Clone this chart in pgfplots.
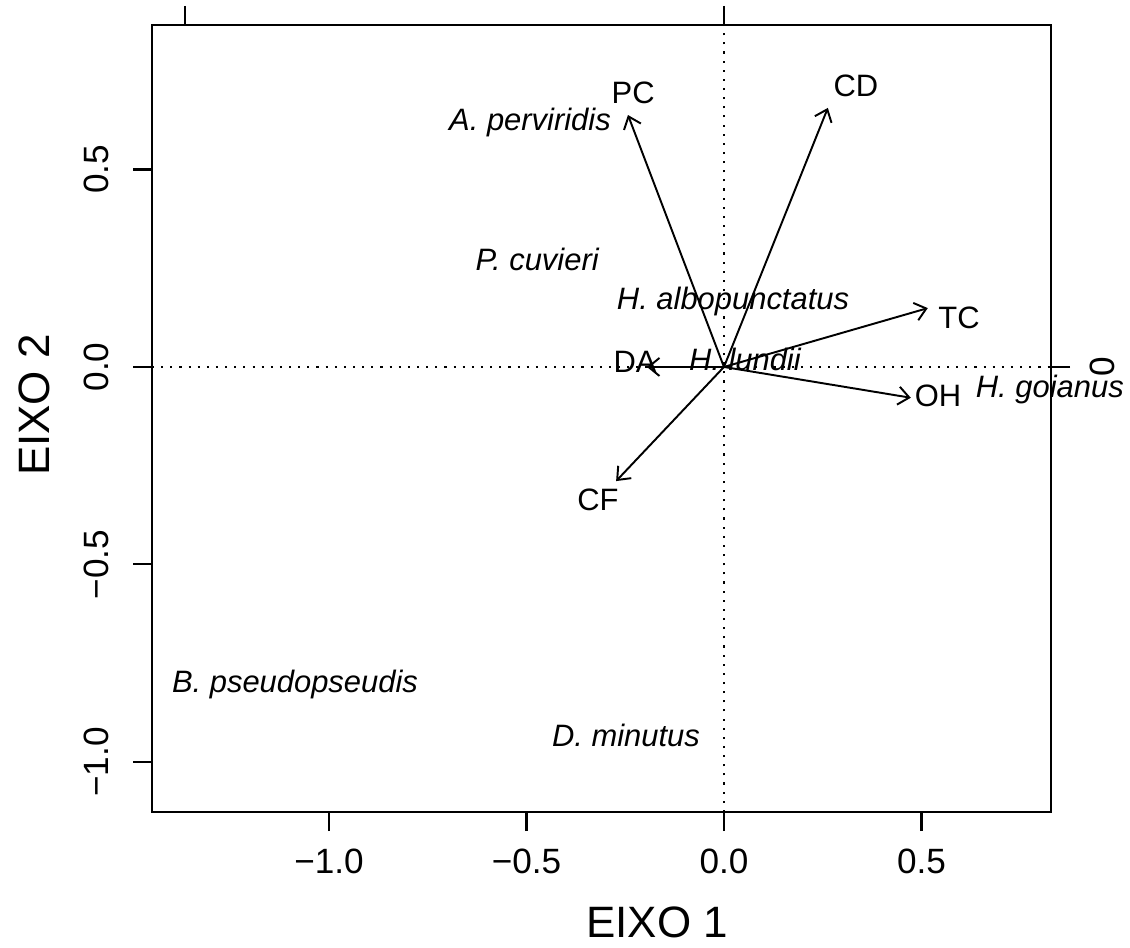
\documentclass[border=0pt]{standalone}
\usepackage{fontspec}
\setmainfont{Liberation Sans}
\usepackage{pgfplots}
\pgfplotsset{compat=1.18}
\usetikzlibrary{arrows.meta,plotmarks}

% one label per call: x, y, text
\newcommand{\lab}[3]{\addplot[black, mark=text, text mark={#3}, text mark as node=true,
  text mark style={font=\fontsize{8.8}{10}\selectfont, inner sep=0pt}] coordinates {(#1,#2)};}

\pgfplotsset{
  biplot/.style={
    at={(15.2mm,13.6mm)}, anchor=south west,
    scale only axis, width=89.9mm, height=78.7mm,
    xmin=-1.448, xmax=0.828, ymin=-1.127, ymax=0.866,
    tick align=outside, major tick length=1.9mm,
    axis line style={line width=0.6pt},
    every tick/.style={black, line width=0.6pt},
    tick label style={font=\fontsize{10}{12}\selectfont},
  }
}

\begin{document}
\begin{tikzpicture}
\useasboundingbox (0,0) rectangle (113mm,94.8mm);
\begin{axis}[
  biplot,
  xtick pos=left, ytick pos=left,
  xtick={-1,-0.5,0,0.5}, xticklabels={−1.0,−0.5,0.0,0.5},
  ytick={-1,-0.5,0,0.5}, yticklabels={−1.0,−0.5,0.0,0.5},
  xticklabel style={yshift=-0.6mm},
  yticklabel style={xshift=-1.2mm, rotate=90, anchor=south},
  every axis x label/.style={at={(axis description cs:0.562,0)}, anchor=center, yshift=-11mm,
    font=\fontsize{12.5}{14}\selectfont},
  every axis y label/.style={at={(axis description cs:0,0.517)}, xshift=-11.8mm, rotate=90, anchor=center,
    font=\fontsize{12.5}{14}\selectfont},
  xlabel={EIXO 1}, ylabel={EIXO 2},
]
\addplot[black, dotted, line width=0.6pt] coordinates {(-1.448,0) (0.828,0)};
\addplot[black, dotted, line width=0.6pt] coordinates {(0,-1.127) (0,0.866)};

\addplot[black, line width=0.55pt, -{Straight Barb[length=1.1mm, width=1.8mm]},
  quiver={u=\thisrow{u}, v=\thisrow{v}}] table {
x y u v
0 0 -0.243 0.638
0 0 0.263 0.656
0 0 0.516 0.149
0 0 -0.195 0.0
0 0 0.473 -0.078
0 0 -0.273 -0.289
};

% variable labels
\lab{-0.230}{0.694}{PC}
\lab{0.334}{0.711}{CD}
\lab{0.595}{0.124}{TC}
\lab{-0.225}{0.013}{DA}
\lab{0.542}{-0.073}{OH}
\lab{-0.319}{-0.337}{CF}

% species
\lab{-0.491}{0.620}{\itshape A. perviridis}
\lab{-0.473}{0.273}{\itshape P. cuvieri}
\lab{0.023}{0.167}{\itshape H. albopunctatus}
\lab{0.053}{0.018}{\itshape H. lundii}
\lab{0.825}{-0.058}{\itshape H. goianus}
\lab{-1.086}{-0.803}{\itshape B. pseudopseudis}
\lab{-0.248}{-0.934}{\itshape D. minutus}
\end{axis}

% second scale: top and right ticks
\begin{axis}[
  biplot,
  axis x line*=top, axis y line*=right,
  xtick={-1.365,0}, xticklabels={},
  ytick={0}, yticklabels={0},
  yticklabel style={xshift=0.8mm, rotate=90, anchor=north},
]
\end{axis}
\end{tikzpicture}
\end{document}
